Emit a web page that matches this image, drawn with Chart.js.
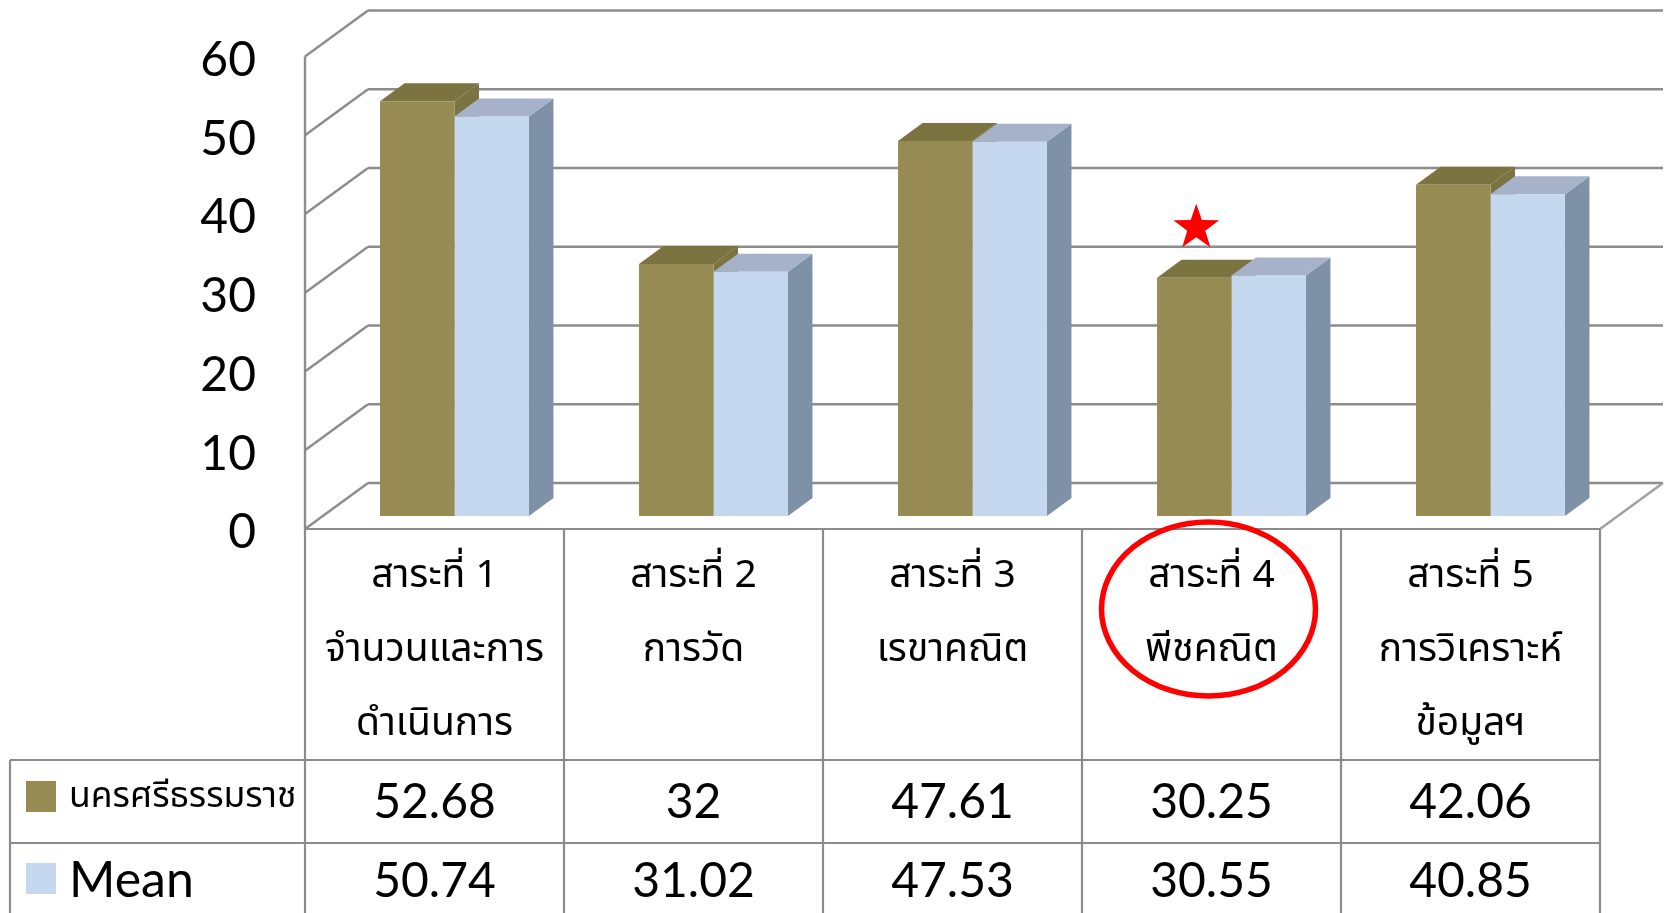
<!DOCTYPE html>
<html><head><meta charset="utf-8">
<style>html,body{margin:0;padding:0;background:#fff;overflow:hidden}#wrap{width:1667px;height:913px;position:relative}</style>
<script src="https://cdn.jsdelivr.net/npm/chart.js@4"></script>
</head><body><div id="wrap"><canvas id="c" width="1667" height="913"></canvas></div>
<script>
const categories = [
  ['สาระที่ 1','จำนวนและการ','ดำเนินการ'],
  ['สาระที่ 2','การวัด'],
  ['สาระที่ 3','เรขาคณิต'],
  ['สาระที่ 4','พีชคณิต'],
  ['สาระที่ 5','การวิเคราะห์','ข้อมูลฯ']
];
const seriesNames = ['นครศรีธรรมราช','Mean'];
const nakhon = [52.68,32,47.61,30.25,42.06];
const mean = [50.74,31.02,47.53,30.55,40.85];
const nakhonText = ['52.68','32','47.61','30.25','42.06'];
const meanText = ['50.74','31.02','47.53','30.55','40.85'];
const yTicks = [0,10,20,30,40,50,60];

const THAI = '"Noto Sans Thai","Noto Sans Thai Looped","Noto Sans","DejaVu Sans",sans-serif';
const LATIN = 'Lato,"Open Sans",sans-serif';
const GRID = '#8c8c8c';
const DEPTH = {dx:63, dy:46};       // floor depth
const BAR = {ox:20, oy:-13, dx:24.5, dy:18}; // bar plane offset + bar depth
const FACE = [
  {front:'#968b53', top:'#7b7340', side:'#7b7340'},
  {front:'#c5d8f0', top:'#a6b2ca', side:'#7e91a6'}
];
const ROW = {a:760, b:843, left:10, bottom:913};

function line(ctx,x1,y1,x2,y2){ctx.beginPath();ctx.moveTo(x1,y1);ctx.lineTo(x2,y2);ctx.stroke();}
function poly(ctx,pts,fill){ctx.fillStyle=fill;ctx.beginPath();pts.forEach((p,i)=>i?ctx.lineTo(p[0],p[1]):ctx.moveTo(p[0],p[1]));ctx.closePath();ctx.fill();}

const threeD = {
  id:'threeD',
  beforeDatasetsDraw(chart){
    const {ctx,chartArea:a,scales:{x,y}} = chart;
    ctx.save();
    ctx.strokeStyle = GRID; ctx.lineWidth = 2.4;
    yTicks.forEach(v=>{
      const p = y.getPixelForValue(v);
      line(ctx,a.left,p,a.left+DEPTH.dx,p-DEPTH.dy);
      line(ctx,a.left+DEPTH.dx,p-DEPTH.dy,a.right+DEPTH.dx,p-DEPTH.dy);
    });
    line(ctx,a.left,y.getPixelForValue(60),a.left,a.bottom);
    ctx.strokeStyle='#a0a0a0';
    line(ctx,a.right,a.bottom,a.right+DEPTH.dx,a.bottom-DEPTH.dy);
    ctx.restore();
    ctx.save();
    ctx.translate(BAR.ox,BAR.oy);
    chart.data.labels.forEach((_,i)=>{
      [0,1].forEach(d=>{
        const el = chart.getDatasetMeta(d).data[i];
        const l = el.x-el.width/2, r = el.x+el.width/2, t = el.y, b = el.base;
        poly(ctx,[[r,t],[r+BAR.dx,t-BAR.dy],[r+BAR.dx,b-BAR.dy],[r,b]],FACE[d].side);
        poly(ctx,[[l,t],[l+BAR.dx,t-BAR.dy],[r+BAR.dx,t-BAR.dy],[r,t]],FACE[d].top);
      });
    });
    ctx.restore();
    ctx.save();
    ctx.translate(BAR.ox,BAR.oy);
  },
  afterDatasetsDraw(chart){
    chart.ctx.restore();
  },
  afterDraw(chart){
    const {ctx,chartArea:a,scales:{x,y}} = chart;
    const band = (a.right-a.left)/categories.length;
    ctx.save();
    ctx.strokeStyle = GRID; ctx.lineWidth = 2.2;
    line(ctx,a.left,a.bottom,a.right,a.bottom);
    for(let i=0;i<=categories.length;i++){
      const px = x.getPixelForValue(i)-band/2;
      line(ctx,px,a.bottom,px,ROW.bottom);
    }
    line(ctx,ROW.left,ROW.a,a.right,ROW.a);
    line(ctx,ROW.left,ROW.b,a.right,ROW.b);
    line(ctx,ROW.left,ROW.a,ROW.left,ROW.bottom);
    ctx.fillStyle='#000'; ctx.textAlign='center'; ctx.textBaseline='middle';
    ctx.font = '48px '+LATIN;
    nakhonText.forEach((t,i)=>ctx.fillText(t,x.getPixelForValue(i),803));
    meanText.forEach((t,i)=>ctx.fillText(t,x.getPixelForValue(i),882));
    ctx.fillStyle=FACE[0].front; ctx.fillRect(26,781,30,31);
    ctx.fillStyle=FACE[1].front; ctx.fillRect(26,863,30,31);
    ctx.fillStyle='#000'; ctx.textAlign='left';
    ctx.font = '35.5px '+THAI;
    ctx.fillText(seriesNames[0],69,800);
    ctx.font = '50px '+LATIN;
    ctx.fillText(seriesNames[1],69,881);
    const el = chart.getDatasetMeta(0).data[3];
    const sx = el.x+BAR.ox+2, sy = el.y+BAR.oy-50, R=24, r=9.5;
    ctx.fillStyle='#ff0000'; ctx.beginPath();
    for(let k=0;k<10;k++){
      const ang=-Math.PI/2+k*Math.PI/5, q=k%2?r:R;
      const X=sx+q*Math.cos(ang),Y=sy+q*Math.sin(ang);
      k?ctx.lineTo(X,Y):ctx.moveTo(X,Y);
    }
    ctx.closePath();ctx.fill();
    ctx.strokeStyle='#ff0000'; ctx.lineWidth=5.5;
    ctx.beginPath(); ctx.ellipse(x.getPixelForValue(3)-3,609,107,87,0,0,Math.PI*2); ctx.stroke();
    ctx.restore();
  }
};

new Chart(document.getElementById('c'),{
  type:'bar',
  data:{labels:categories,datasets:[
    {label:seriesNames[0],data:nakhon,backgroundColor:FACE[0].front,categoryPercentage:0.575,barPercentage:1,clip:false},
    {label:seriesNames[1],data:mean,backgroundColor:FACE[1].front,categoryPercentage:0.575,barPercentage:1,clip:false}
  ]},
  options:{
    responsive:false,animation:false,
    layout:{padding:{left:0,right:67,top:56.5,bottom:0}},
    plugins:{legend:{display:false},title:{display:false},tooltip:{enabled:false}},
    scales:{
      x:{
        grid:{display:false},border:{display:false},
        afterFit(s){s.height=384;s.paddingLeft=0;s.paddingRight=0;},
        ticks:{color:'#000',padding:5,maxRotation:0,autoSkip:false,font:{family:THAI,size:39,lineHeight:1.9}}
      },
      y:{
        min:0,max:60,
        grid:{display:false},border:{display:false},
        afterFit(s){s.width=305;s.paddingTop=0;s.paddingBottom=0;},
        afterBuildTicks(s){s.ticks=yTicks.map(v=>({value:v}));},
        ticks:{color:'#000',padding:41,callback:v=>['',String(v)],font:{family:LATIN,size:48,lineHeight:'8px'}}
      }
    }
  },
  plugins:[threeD]
});
</script></body></html>
